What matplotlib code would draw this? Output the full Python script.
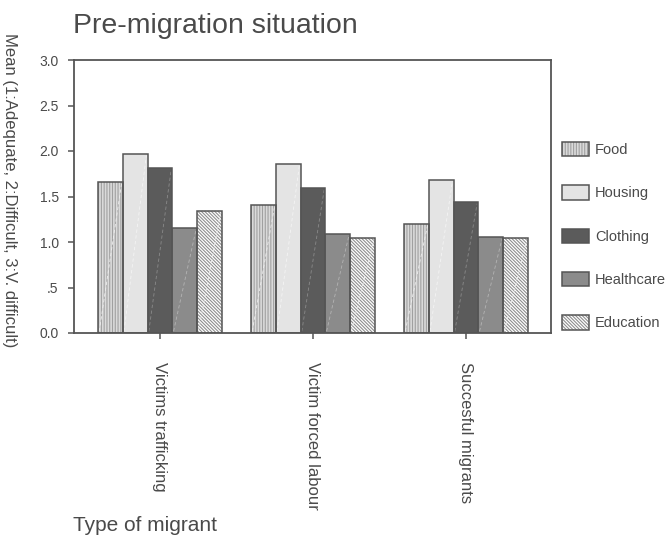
import numpy as np
import matplotlib
matplotlib.use("Agg")
import matplotlib.pyplot as plt
from matplotlib.legend_handler import HandlerTuple

plt.rcParams["font.family"] = ["Liberation Sans", "DejaVu Sans"]
plt.rcParams["hatch.linewidth"] = 0.8

groups = ["Victims trafficking", "Victim forced labour", "Succesful migrants"]
items = ["Food", "Housing", "Clothing", "Healthcare", "Education"]
food = [1.66, 1.41, 1.20]
housing = [1.97, 1.86, 1.68]
clothing = [1.81, 1.59, 1.44]
healthcare = [1.15, 1.09, 1.05]
education = [1.34, 1.04, 1.04]
yticks = [0.0, 0.5, 1.0, 1.5, 2.0, 2.5, 3.0]
yticklabels = ["0.0", ".5", "1.0", "1.5", "2.0", "2.5", "3.0"]

faces = ["#dadada", "#e4e4e4", "#5b5b5b", "#8b8b8b", "#ffffff"]
hatches = ["||||||", None, None, None, "\\\\\\\\\\\\\\\\\\\\"]
hatch_cols = ["#a0a0a0", "#e4e4e4", "#5b5b5b", "#8b8b8b", "#8f8f8f"]
diag_cols = ["#eeeeee", "#f4f4f4", "#8a8a8a", "#b4b4b4", "#eeeeee"]
EDGE = "#555555"
TXT = "#4a4a4a"

fig = plt.figure(figsize=(6.69, 5.35), dpi=100)
ax = fig.add_axes([74 / 669, 1 - 333 / 535, 477 / 669, 273 / 535])

x = np.arange(len(groups))
w = 0.162
handles = []
for i, vals in enumerate([food, housing, clothing, healthcare, education]):
    pos = x + (i - 2) * w
    b1 = ax.bar(pos, vals, w, color=faces[i], hatch=hatches[i],
                edgecolor=hatch_cols[i], linewidth=0, zorder=2)
    b2 = ax.bar(pos, vals, w, fill=False, edgecolor=EDGE, linewidth=1.1, zorder=3)
    for p in b1.patches:
        x0, h = p.get_x(), p.get_height()
        ax.plot([x0 + 0.05 * w, x0 + 0.95 * w], [0.02, h - 0.02], color=diag_cols[i],
                lw=0.6, ls=(0, (4, 3)), zorder=2.5)
    handles.append((b1, b2))

ax.set_xlim(-0.562, 2.556)
ax.set_ylim(0, 3.0)
ax.set_yticks(yticks)
ax.set_yticklabels(yticklabels)
ax.set_xticks(x)
ax.set_xticklabels(groups, rotation=270, va="top", ha="center")
for s in ax.spines.values():
    s.set_color(EDGE)
    s.set_linewidth(1.3)
ax.tick_params(axis="y", direction="out", length=4, width=1.1, color=EDGE,
               labelsize=10, labelcolor=TXT, pad=7)
ax.tick_params(axis="x", direction="out", length=4, width=1.1, color=EDGE,
               labelsize=12, labelcolor=TXT, pad=17)

leg = fig.legend(handles, items, handler_map={tuple: HandlerTuple(ndivide=1)},
                 loc="upper left", bbox_to_anchor=(562 / 669, 1 - 142 / 535),
                 frameon=False, fontsize=10.5, borderpad=0, borderaxespad=0,
                 handlelength=1.85, handleheight=1.15, handletextpad=0.4,
                 labelspacing=1.93)
for t in leg.get_texts():
    t.set_color(TXT)

fig.text(73 / 669, 1 - 33 / 535, "Pre-migration situation", fontsize=20.5,
         color=TXT, ha="left", va="baseline")
fig.text(73 / 669, 4 / 535, "Type of migrant", fontsize=15, color=TXT,
         ha="left", va="baseline")
fig.text(9 / 669, 1 - 190 / 535, "Mean (1:Adequate, 2:Difficult, 3:V. difficult)",
         fontsize=12, color=TXT, rotation=270, ha="center", va="center")

fig.savefig("out.png", dpi=100)
